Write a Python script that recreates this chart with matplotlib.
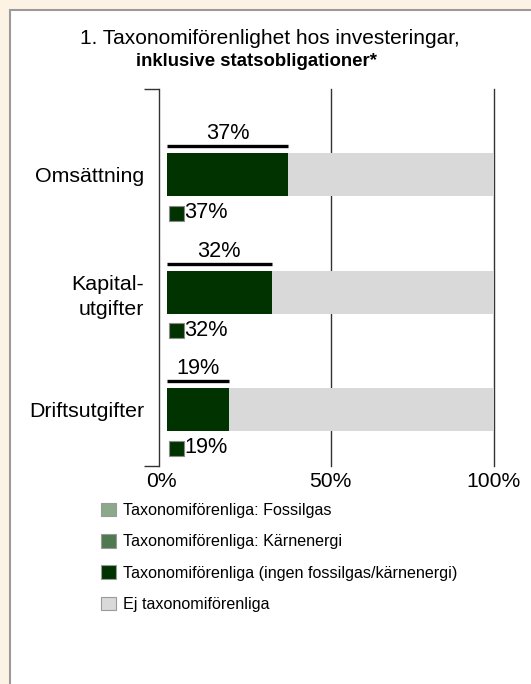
import matplotlib
matplotlib.use("Agg")
import matplotlib.pyplot as plt
from matplotlib.patches import Rectangle, Patch
from matplotlib.transforms import ScaledTranslation

plt.rcParams["font.family"] = ["Liberation Sans", "DejaVu Sans"]

categories = ["Omsättning", "Kapital-\nutgifter", "Driftsutgifter"]
fossil_gas = [0, 0, 0]
nuclear = [0, 0, 0]
aligned_other = [37, 32, 19]
not_aligned = [63, 68, 81]
x_ticks = [0, 50, 100]
x_tick_labels = ["0%", "50%", "100%"]
legend_labels = [
    "Taxonomiförenliga: Fossilgas",
    "Taxonomiförenliga: Kärnenergi",
    "Taxonomiförenliga (ingen fossilgas/kärnenergi)",
    "Ej taxonomiförenliga",
]

C_GAS = "#8ba98b"
C_NUC = "#4f7a4f"
C_DARK = "#013301"
C_GREY = "#d9d9d9"
BG = "#fdf3e5"

W, H = 531, 684
fig = plt.figure(figsize=(W / 100, H / 100), dpi=100)
fig.patch.set_facecolor(BG)
fig.patches.append(Rectangle((10 / W, -0.1), 1.2, 1.1 - 10 / H, transform=fig.transFigure,
                             facecolor="white", edgecolor="#9a9a9a", lw=1.5, zorder=-5))

fig.text(270 / W, 1 - 39 / H, "1. Taxonomiförenlighet hos investeringar,",
         ha="center", va="center", fontsize=15)
fig.text(256 / W, 1 - 61 / H, "inklusive statsobligationer*",
         ha="center", va="center", fontsize=13.4, fontweight="bold")

ax = fig.add_axes([167 / W, (H - 466) / H, (494 - 167) / W, (466 - 89) / H])
ax.set_facecolor("none")
ys = list(range(len(categories)))
bar_h = 0.366

left = [0] * len(ys)
for vals, col in [(fossil_gas, C_GAS), (nuclear, C_NUC), (aligned_other, C_DARK), (not_aligned, C_GREY)]:
    ax.barh(ys, vals, left=left, height=bar_h, color=col, zorder=3)
    left = [a + b for a, b in zip(left, vals)]

for x in x_ticks[1:]:
    ax.axvline(x, color="#333333", lw=1, zorder=1, clip_on=False)

dpi_tr = fig.dpi_scale_trans
for y, g, n, o in zip(ys, fossil_gas, nuclear, aligned_other):
    total = g + n + o
    ax.hlines(y - bar_h / 2 - 0.062, 0, total, color="black", lw=2.4, zorder=3)
    ax.text(total / 2, y - 0.35, f"{total}%", ha="center", va="center", fontsize=15.6)
    ax.plot([0], [y + 0.32], marker="s", ms=10.8, mfc=C_DARK, mec="#8a8a8a", mew=0.8,
            transform=ax.transData + ScaledTranslation(8.5 / 100, 0, dpi_tr), zorder=4)
    ax.text(0, y + 0.32, f"{o}%", ha="left", va="center", fontsize=15.6,
            transform=ax.transData + ScaledTranslation(17 / 100, 0, dpi_tr))

ax.set_xlim(0, 100)
ax.set_ylim(2.477, -0.732)
for s in ["top", "right", "bottom"]:
    ax.spines[s].set_visible(False)
ax.spines["left"].set_position(("outward", 6))
ax.spines["left"].set_linewidth(1)
ax.spines["left"].set_color("#333333")

ax.set_yticks([-0.732, 2.477], labels=["", ""])
ax.tick_params(axis="y", which="major", length=11, width=1, color="#333333", direction="out")
ax.set_yticks(ys, labels=categories, minor=True)
ax.tick_params(axis="y", which="minor", length=0, pad=10.5, labelsize=15.4)
for lab in ax.get_yticklabels(minor=True):
    lab.set_linespacing(1.35)

ax.set_xticks(x_ticks, labels=x_tick_labels)
ax.tick_params(axis="x", length=0, pad=4, labelsize=15.2)
first = ax.get_xticklabels()[0]
first.set_transform(first.get_transform() + ScaledTranslation(-6 / 100, 0, dpi_tr))

handles = [Patch(facecolor=c, edgecolor="#9a9a9a", lw=0.8) for c in [C_GAS, C_NUC, C_DARK, C_GREY]]
fig.legend(handles, legend_labels, loc="upper left", bbox_to_anchor=(101 / W, 1 - 503 / H),
           frameon=False, fontsize=11.6, handlelength=0.9, handleheight=0.9,
           handletextpad=0.45, labelspacing=0.99, borderaxespad=0, borderpad=0)

fig.savefig("out.png", dpi=100, facecolor=BG)
